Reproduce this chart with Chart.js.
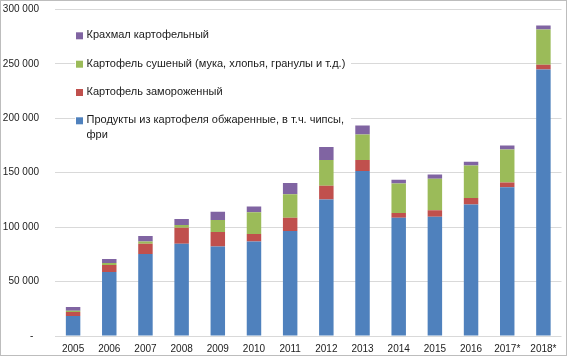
<!DOCTYPE html>
<html>
<head>
<meta charset="utf-8">
<script src="https://cdn.jsdelivr.net/npm/chart.js@4.4.1/dist/chart.umd.min.js"></script>
<style>
html,body{margin:0;padding:0;background:#fff;}
#wrap{width:568px;height:357px;position:relative;}
</style>
</head>
<body>
<div id="wrap"><canvas id="c" width="568" height="357"></canvas></div>
<script>
const categories = ['2005','2006','2007','2008','2009','2010','2011','2012','2013','2014','2015','2016','2017*','2018*'];
const friedValues  = [18400,58800,75400,84800,82100,86700,96500,125300,151600,108700,109400,120700,136600,244700];
const frozenValues = [3600,6500,9400,14700,13500,7000,12200,12600,10100,4300,6100,6100,4300,4300];
const driedValues  = [1200,1800,1900,2500,11000,20000,21500,23800,23300,27000,28800,29700,30300,32500];
const starchValues = [3400,3700,5200,5500,7400,5200,10400,12000,8300,3400,3900,3400,3700,3700];
const seriesLabels = [
  'Продукты из картофеля обжаренные, в т.ч. чипсы, фри',
  'Картофель замороженный',
  'Картофель сушеный (мука, хлопья, гранулы и т.д.)',
  'Крахмал картофельный'
];
const yTicks = [0,50000,100000,150000,200000,250000,300000];
const tickLabels = ['-','50 000','100 000','150 000','200 000','250 000','300 000'];

const FONT = '"Liberation Sans",Arial,sans-serif';
const colors = ['#4F81BD','#C0504D','#9BBB59','#8064A2'];

const frame = {
  id:'frame',
  beforeDraw(chart){
    const ctx = chart.ctx;
    ctx.save();
    ctx.fillStyle = '#fff';
    ctx.fillRect(0,0,chart.width,chart.height);
    ctx.restore();
  },
  afterDraw(chart){
    const ctx = chart.ctx;
    ctx.save();
    ctx.strokeStyle = '#bdbdbd';
    ctx.lineWidth = 1;
    ctx.strokeRect(0.5,0.5,566,355);
    ctx.restore();
  }
};

const innerLegend = {
  id:'innerLegend',
  afterDatasetsDraw(chart){
    const ctx = chart.ctx;
    ctx.save();
    ctx.fillStyle = '#fff';
    ctx.fillRect(75,25,276,122);
    ctx.font = '11px ' + FONT;
    ctx.textBaseline = 'middle';
    const maxW = 268;
    const rows = [35.3,63.7,92,120.3];
    const order = [3,2,1,0];
    order.forEach((di,i)=>{
      const ds = chart.data.datasets[di];
      const y = rows[i];
      ctx.fillStyle = ds.backgroundColor;
      ctx.fillRect(76,y-3,7,7);
      ctx.fillStyle = '#1a1a1a';
      const words = ds.label.split(' ');
      const lines = [];
      let cur = '';
      words.forEach(w=>{
        const t = cur ? cur + ' ' + w : w;
        if (ctx.measureText(t).width > maxW && cur) { lines.push(cur); cur = w; }
        else cur = t;
      });
      lines.push(cur);
      lines.forEach((ln,k)=>ctx.fillText(ln,86.5,y+k*15));
    });
    ctx.restore();
  }
};

new Chart(document.getElementById('c'),{
  type:'bar',
  data:{
    labels:categories,
    datasets:[
      {label:seriesLabels[0],data:friedValues,backgroundColor:colors[0]},
      {label:seriesLabels[1],data:frozenValues,backgroundColor:colors[1]},
      {label:seriesLabels[2],data:driedValues,backgroundColor:colors[2]},
      {label:seriesLabels[3],data:starchValues,backgroundColor:colors[3]}
    ]
  },
  options:{
    responsive:false,
    animation:false,
    devicePixelRatio:1,
    layout:{padding:{left:0,right:6.5,top:9.3,bottom:0}},
    datasets:{bar:{barPercentage:0.4,categoryPercentage:1,borderWidth:0}},
    plugins:{legend:{display:false},tooltip:{enabled:false}},
    scales:{
      x:{
        stacked:true,
        afterFit(s){s.height=21;s.paddingLeft=0;s.paddingRight=0;},
        grid:{display:false,drawTicks:false},
        border:{display:false},
        ticks:{color:'#222',font:{family:FONT,size:10},padding:7,maxRotation:0,autoSkip:false}
      },
      y:{
        stacked:true,
        min:0,max:300000,
        afterFit(s){s.width=55;s.paddingTop=0;s.paddingBottom=0;},
        afterBuildTicks(s){s.ticks = yTicks.map(v=>({value:v}));},
        grid:{color:'#d9d9d9',drawTicks:false,lineWidth:1},
        border:{display:false},
        ticks:{
          color:'#222',font:{family:FONT,size:10},padding:16,
          callback(v){const i=yTicks.indexOf(v);return i===0?'-  ':tickLabels[i];}
        }
      }
    }
  },
  plugins:[frame,innerLegend]
});
</script>
</body>
</html>
